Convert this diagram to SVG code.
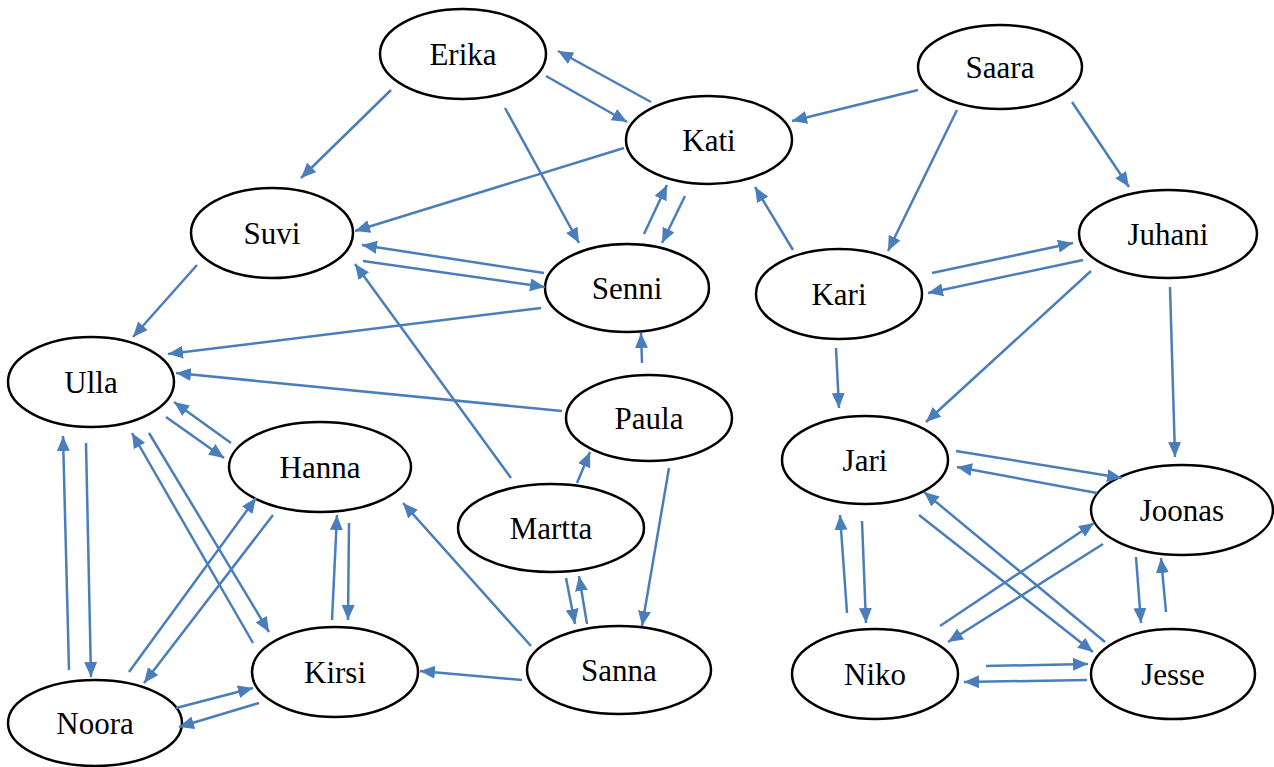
<svg xmlns="http://www.w3.org/2000/svg" width="1274" height="767" viewBox="0 0 1274 767">
  <defs>
    <style>
      .node ellipse { fill: #ffffff; stroke: #000000; stroke-width: 2.5; }
      .node text { font-family: 'Liberation Serif', 'Times New Roman', 'DejaVu Serif', serif; font-size: 31px; fill: #000000; text-anchor: middle; }
      .edge line { stroke: #4a7ebb; stroke-width: 2.5; fill: none; marker-end: url(#arrow); }
    </style>
    <marker id="arrow" markerUnits="userSpaceOnUse" markerWidth="16" markerHeight="14" refX="15" refY="6.5" orient="auto">
      <path d="M0,0 L15,6.5 L0,13 z" fill="#4a7ebb"/>
    </marker>
  </defs>
  <rect width="1274" height="767" fill="#ffffff"/>

  <!-- people -->
  <g font-family="Liberation Serif, Times New Roman, DejaVu Serif, serif">
  <g id="n-erika" class="node"><ellipse cx="463" cy="54" rx="83" ry="45"/><text x="463" y="65">Erika</text></g>
  <g id="n-kati" class="node"><ellipse cx="709" cy="140" rx="83" ry="44"/><text x="709" y="151">Kati</text></g>
  <g id="n-saara" class="node"><ellipse cx="1000" cy="67" rx="82" ry="42"/><text x="1000" y="78">Saara</text></g>
  <g id="n-juhani" class="node"><ellipse cx="1168" cy="234" rx="89" ry="44"/><text x="1168" y="245">Juhani</text></g>
  <g id="n-kari" class="node"><ellipse cx="839" cy="294" rx="83" ry="45"/><text x="839" y="305">Kari</text></g>
  <g id="n-suvi" class="node"><ellipse cx="272" cy="233" rx="81" ry="45"/><text x="272" y="244">Suvi</text></g>
  <g id="n-senni" class="node"><ellipse cx="627" cy="288" rx="82" ry="44"/><text x="627" y="299">Senni</text></g>
  <g id="n-ulla" class="node"><ellipse cx="91" cy="382" rx="83" ry="45"/><text x="91" y="393">Ulla</text></g>
  <g id="n-hanna" class="node"><ellipse cx="320" cy="467" rx="91" ry="45"/><text x="320" y="478">Hanna</text></g>
  <g id="n-kirsi" class="node"><ellipse cx="335" cy="672" rx="83" ry="45"/><text x="335" y="683">Kirsi</text></g>
  <g id="n-noora" class="node"><ellipse cx="95" cy="723" rx="87" ry="43"/><text x="95" y="734">Noora</text></g>
  <g id="n-paula" class="node"><ellipse cx="649" cy="418" rx="83" ry="43"/><text x="649" y="429">Paula</text></g>
  <g id="n-martta" class="node"><ellipse cx="551" cy="528" rx="93" ry="44"/><text x="551" y="539">Martta</text></g>
  <g id="n-sanna" class="node"><ellipse cx="619" cy="670" rx="92" ry="44"/><text x="619" y="681">Sanna</text></g>
  <g id="n-jari" class="node"><ellipse cx="865" cy="460" rx="83" ry="44"/><text x="865" y="471">Jari</text></g>
  <g id="n-joonas" class="node"><ellipse cx="1182" cy="510" rx="91" ry="45"/><text x="1182" y="521">Joonas</text></g>
  <g id="n-niko" class="node"><ellipse cx="875" cy="674" rx="83" ry="45"/><text x="875" y="685">Niko</text></g>
  <g id="n-jesse" class="node"><ellipse cx="1173" cy="674" rx="82" ry="45"/><text x="1173" y="685">Jesse</text></g>
  </g>

  <!-- directed links -->
  <g id="connectors" class="edge">
    <line x1="546" y1="76" x2="627" y2="122"/>
    <line x1="651" y1="102" x2="558" y2="51"/>
    <line x1="391" y1="90" x2="301" y2="178"/>
    <line x1="505" y1="108" x2="579" y2="243"/>
    <line x1="624" y1="148" x2="355" y2="231"/>
    <line x1="918" y1="90" x2="792" y2="121"/>
    <line x1="957" y1="110" x2="888" y2="251"/>
    <line x1="1072" y1="102" x2="1129" y2="187"/>
    <line x1="793" y1="250" x2="755" y2="187"/>
    <line x1="685" y1="196" x2="662" y2="243"/>
    <line x1="644" y1="234" x2="667" y2="185"/>
    <line x1="363" y1="261" x2="545" y2="287"/>
    <line x1="544" y1="273" x2="362" y2="245"/>
    <line x1="541" y1="308" x2="168" y2="354"/>
    <line x1="197" y1="265" x2="133" y2="337"/>
    <line x1="562" y1="411" x2="176" y2="373"/>
    <line x1="642" y1="363" x2="641" y2="333"/>
    <line x1="577" y1="483" x2="590" y2="452"/>
    <line x1="669" y1="468" x2="642" y2="626"/>
    <line x1="511" y1="478" x2="355" y2="264"/>
    <line x1="566" y1="578" x2="575" y2="624"/>
    <line x1="587" y1="624" x2="579" y2="576"/>
    <line x1="531" y1="646" x2="403" y2="503"/>
    <line x1="522" y1="680" x2="420" y2="671"/>

    <line x1="166" y1="417" x2="224" y2="458"/>
    <line x1="231" y1="443" x2="174" y2="402"/>
    <line x1="69" y1="670" x2="63" y2="436"/>
    <line x1="86" y1="443" x2="91" y2="677"/>
    <line x1="253" y1="643" x2="132" y2="433"/>
    <line x1="149" y1="433" x2="269" y2="632"/>
    <line x1="129" y1="672" x2="256" y2="498"/>
    <line x1="273" y1="515" x2="144" y2="683"/>
    <line x1="332" y1="620" x2="337" y2="515"/>
    <line x1="349" y1="523" x2="348" y2="620"/>
    <line x1="176" y1="708" x2="253" y2="688"/>
    <line x1="259" y1="703" x2="179" y2="727"/>

    <line x1="932" y1="273" x2="1073" y2="243"/>
    <line x1="1083" y1="260" x2="928" y2="293"/>
    <line x1="836" y1="348" x2="839" y2="408"/>
    <line x1="1091" y1="271" x2="926" y2="422"/>
    <line x1="1170" y1="287" x2="1175" y2="457"/>
    <line x1="956" y1="451" x2="1122" y2="478"/>
    <line x1="1097" y1="493" x2="957" y2="467"/>
    <line x1="1105" y1="642" x2="924" y2="492"/>
    <line x1="919" y1="515" x2="1093" y2="652"/>
    <line x1="847" y1="613" x2="840" y2="515"/>
    <line x1="862" y1="521" x2="866" y2="623"/>
    <line x1="940" y1="626" x2="1094" y2="523"/>
    <line x1="1103" y1="544" x2="948" y2="642"/>
    <line x1="1136" y1="557" x2="1141" y2="623"/>
    <line x1="1166" y1="612" x2="1161" y2="558"/>
    <line x1="986" y1="666" x2="1088" y2="664"/>
    <line x1="1087" y1="680" x2="964" y2="682"/>
  </g>
</svg>
